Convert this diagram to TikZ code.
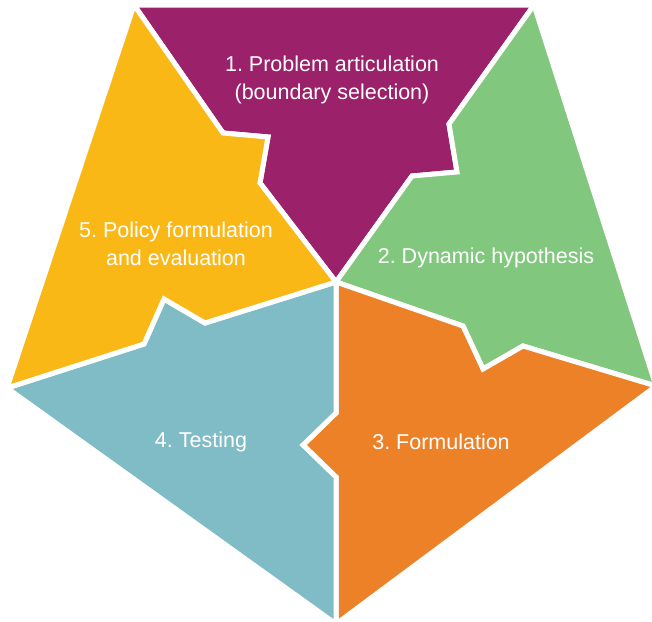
\documentclass[tikz,border=0pt]{standalone}
\usepackage{fontspec}
\setmainfont{Liberation Sans}
\frenchspacing
\definecolor{cpurple}{RGB}{155,33,106}
\definecolor{cgreen}{RGB}{130,199,126}
\definecolor{corange}{RGB}{236,129,39}
\definecolor{cteal}{RGB}{128,188,197}
\definecolor{cyellow}{RGB}{250,184,23}
\begin{document}
\begin{tikzpicture}[x=1pt,y=-1pt,
  piece/.style={draw=white,line width=5pt,line join=miter},
  lbl/.style={text=white,font=\fontsize{21.5}{28}\selectfont,align=center,inner sep=0pt}]
\useasboundingbox (0,0) rectangle (652,621);
\begin{scope}
\clip (0,0) rectangle (652,621);
% pentagon corners and centre
\coordinate (C)  at (336,282);
\coordinate (TL) at (134,5);
\coordinate (TR) at (534,5);
\coordinate (R)  at (656,386);
\coordinate (B)  at (336,624);
\coordinate (L)  at (7,388);
% 1 -- problem articulation
\fill[piece,fill=cpurple] (TL) -- (TR) -- (449,124) -- (457,172) -- (412,176) -- (C)
  -- (260,183) -- (268,137) -- (223,133) -- cycle;
% 2 -- dynamic hypothesis
\fill[piece,fill=cgreen] (TR) -- (R) -- (523,346) -- (483,369) -- (463,326) -- (C)
  -- (412,176) -- (457,172) -- (449,124) -- cycle;
% 3 -- formulation
\fill[piece,fill=corange] (C) -- (463,326) -- (483,369) -- (523,346) -- (R) -- (B)
  -- (336,477) -- (303,445) -- (336,413) -- cycle;
% 4 -- testing
\fill[piece,fill=cteal] (C) -- (336,413) -- (303,445) -- (336,477) -- (B) -- (L)
  -- (144,344) -- (164,299) -- (205,323) -- cycle;
% 5 -- policy formulation
\fill[piece,fill=cyellow] (TL) -- (223,133) -- (268,137) -- (260,183) -- (C)
  -- (205,323) -- (164,299) -- (144,344) -- (L) -- cycle;
\end{scope}
\node[lbl] (t1) at (332,80) {1. Problem articulation\\(boundary selection)};
\node[lbl] (t2) at (486,258) {2. Dynamic hypothesis};
\node[lbl] (t3) at (441,442) {3. Formulation};
\node[lbl] (t4) at (201,442) {4. Testing};
\node[lbl] (t5) at (176,244) {5. Policy formulation\\and evaluation};
\end{tikzpicture}
\end{document}
